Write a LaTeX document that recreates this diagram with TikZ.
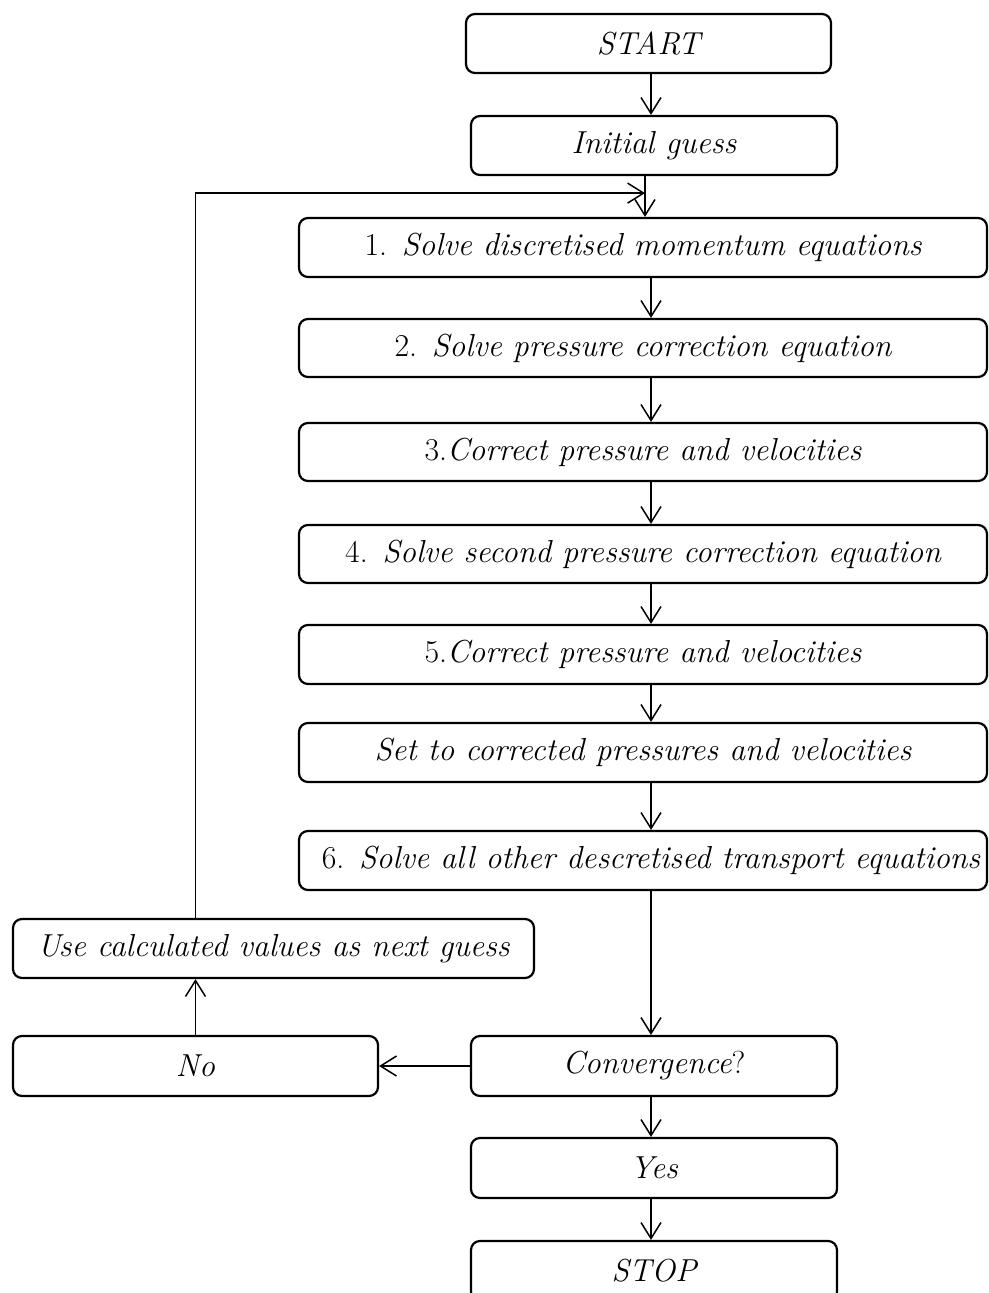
\documentclass[tikz,border=0pt]{standalone}
\usetikzlibrary{arrows.meta,calc}
\begin{document}
\begin{tikzpicture}[x=1pt,y=-1pt,
  box/.style={draw, line width=2.2pt, rounded corners=9pt, inner sep=0pt,
    font=\fontsize{31.8}{36}\selectfont\itshape},
  arr/.style={line width=1.5pt, -{Straight Barb[length=16pt,width=20pt,line width=1.5pt]}},
  ln/.style={line width=1.5pt}]
\useasboundingbox (0,0) rectangle (988,1293);
\newcommand\up[1]{{\upshape #1}}
\node[box, minimum width=365pt, minimum height=59pt] (start) at (648.5,43.5) {START};
\node[box, minimum width=366pt, minimum height=59pt] (init) at (654,145.5) {Initial guess};
\node[box, minimum width=688pt, minimum height=59pt] (b1) at (643,247.5) {\up{1.} Solve discretised momentum equations};
\node[box, minimum width=688pt, minimum height=58pt] (b2) at (643,348) {\up{2.} Solve pressure correction equation};
\node[box, minimum width=688pt, minimum height=58pt] (b3) at (643,452) {\up{3.}Correct pressure and velocities};
\node[box, minimum width=688pt, minimum height=58pt] (b4) at (643,554) {\up{4.} Solve second pressure correction equation};
\node[box, minimum width=688pt, minimum height=59pt] (b5) at (643,654.5) {\up{5.}Correct pressure and velocities};
\node[box, minimum width=688pt, minimum height=59pt] (set) at (643,752.5) {Set to corrected pressures and velocities};
\node[box, minimum width=688pt, minimum height=59pt] (b6) at (643,860.5) {\hspace*{16pt}\up{6.} Solve all other descretised transport equations};
\node[box, minimum width=521pt, minimum height=59pt] (use) at (273.5,948.5) {Use calculated values as next guess};
\node[box, minimum width=365pt, minimum height=60pt] (no) at (195.5,1066) {No};
\node[box, minimum width=366pt, minimum height=60pt] (conv) at (654,1066) {Convergence\up{?}};
\node[box, minimum width=366pt, minimum height=60pt] (yes) at (654,1168) {Yes};
\node[box, minimum width=366pt, minimum height=60pt] (stop) at (654,1271) {STOP};
\coordinate (col) at (651,0);
\coordinate (join) at ($(init.south)+(-9,17)$);
\draw[arr] (start.south -| col) -- (init.north -| col);
\draw[arr] (init.south -| join) -- (b1.north -| join);
\draw[arr] (b1.south -| col) -- (b2.north -| col);
\draw[arr] (b2.south -| col) -- (b3.north -| col);
\draw[arr] (b3.south -| col) -- (b4.north -| col);
\draw[arr] (b4.south -| col) -- (b5.north -| col);
\draw[arr] (b5.south -| col) -- (set.north -| col);
\draw[arr] (set.south -| col) -- (b6.north -| col);
\draw[arr] (b6.south -| col) -- (conv.north -| col);
\draw[arr] (conv.south -| col) -- (yes.north -| col);
\draw[arr] (yes.south -| col) -- (stop.north -| col);
\draw[arr] (conv.west) -- (no.east);
\draw[arr] (no.north) -- (no.north |- use.south);
\draw[arr] (no.north |- use.north) |- (join);
\end{tikzpicture}
\end{document}
